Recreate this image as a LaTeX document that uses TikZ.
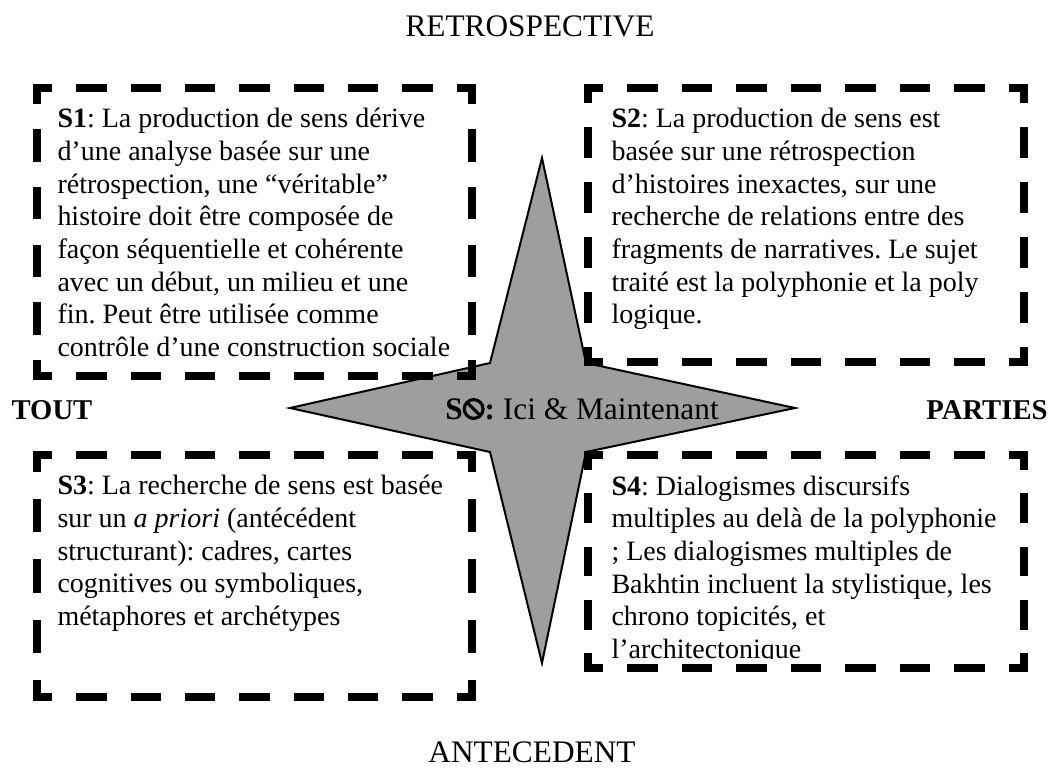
\documentclass[tikz,border=0pt]{standalone}
\usepackage{fontspec}
\setmainfont{Liberation Serif}
\frenchspacing

\tikzset{every picture/.style={line width=0.75pt}}
\tikzset{
  etoile/.style={draw=black, fill={rgb, 255:red, 158; green, 158; blue, 158}, line width=1.5pt, line join=miter},
  cadre/.style={draw=black, line width=5.6pt, line cap=rect},
  boxtext/.style={anchor=north west, inner sep=0pt, align=left, font=\fontsize{21}{24.5}\selectfont},
  axe/.style={inner sep=0pt, font=\fontsize{23.5}{27}\selectfont},
  cote/.style={inner sep=0pt, font=\fontsize{21.5}{25}\selectfont\bfseries}
}

% dashed frame whose dashes fit every side, half dash at each corner
\newcommand\cadrebox[4]{%
  \foreach \ax/\ay/\bx/\by in {#1/#2/#3/#2, #3/#2/#3/#4, #3/#4/#1/#4, #1/#4/#1/#2}{
    \pgfmathsetmacro\len{veclen(\bx-\ax,\by-\ay)}
    \pgfmathsetmacro\per{\len/max(1,round(\len/55))}
    \pgfmathsetmacro\don{0.56*\per*0.75-5.6}
    \pgfmathsetmacro\doff{0.44*\per*0.75+5.6}
    \pgfmathsetmacro\dph{0.5*\don}
    \draw[cadre, dash pattern=on \don pt off \doff pt, dash phase=\dph pt] (\ax,\ay) -- (\bx,\by);
  }}

% circled backslash sign
\newcommand\nulsym{\tikz[baseline=0pt, line width=0.1em]{\draw (0.36em,0.33em) circle (0.3em); \draw (0.15em,0.54em) -- (0.57em,0.12em);}}

\begin{document}
\begin{tikzpicture}[x=0.75pt,y=0.75pt,yscale=-1,xscale=1]
	\useasboundingbox (0,0) rectangle (1057,778);
	
	%Shape: Star
	\draw [etoile] (542,158) -- (586,363) -- (795,408) -- (586,452) -- (542,663) -- (490,452) -- (290,408) -- (490,363) -- cycle ;
	
	%Dashed frames
	\cadrebox{37}{88}{472}{376}
	\cadrebox{588}{88}{1024}{362}
	\cadrebox{37}{455}{472}{697}
	\cadrebox{588}{455}{1024}{668}
	
	% Text Node
	\node (s1) at (57,108) [boxtext] {\textbf{S1}: La production de sens dérive\\d’une analyse basée sur une\\rétrospection, une “véritable”\\histoire doit être composée de\\façon séquentielle et cohérente\\avec un début, un milieu et une\\fin. Peut être utilisée comme\\contrôle d’une construction sociale};
	% Text Node
	\node (s2) at (611,108) [boxtext] {\textbf{S2}: La production de sens est\\basée sur une rétrospection\\d’histoires inexactes, sur une\\recherche de relations entre des\\fragments de narratives. Le sujet\\traité est la polyphonie et la poly\\logique.};
	% Text Node
	\node (s3) at (57,475) [boxtext] {\textbf{S3}: La recherche de sens est basée\\sur un \textit{a priori} (antécédent\\structurant): cadres, cartes\\cognitives ou symboliques,\\métaphores et archétypes};
	% Text Node
	\begin{scope}
	\clip (560,440) rectangle (1040,658);
	\node (s4) at (611,475) [boxtext] {\textbf{S4}: Dialogismes discursifs\\multiples au delà de la polyphonie\\; Les dialogismes multiples de\\Bakhtin incluent la stylistique, les\\chrono topicités, et\\l’architectonique};
	\end{scope}
	
	% Text Node
	\node (ici) at (582,409) [axe] {\textbf{S\nulsym:} Ici \& Maintenant};
	% Text Node
	\node (retro) at (530,26) [axe] {RETROSPECTIVE};
	% Text Node
	\node (ante) at (532,752) [axe] {ANTECEDENT};
	% Text Node
	\node (tout) at (52,410) [cote] {TOUT};
	% Text Node
	\node (parties) at (987,410) [cote] {PARTIES};
	
\end{tikzpicture}
\end{document}
